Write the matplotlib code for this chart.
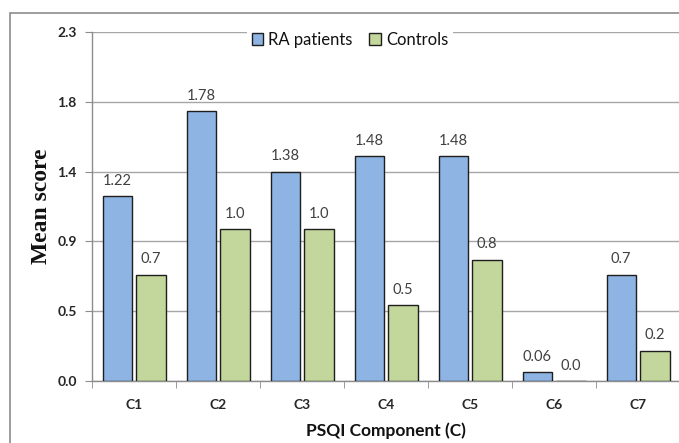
import numpy as np
import matplotlib
matplotlib.use("Agg")
import matplotlib.pyplot as plt
from matplotlib.patches import Rectangle

# PSQI component means
components = ["C1", "C2", "C3", "C4", "C5", "C6", "C7"]
ra_patients = [1.22, 1.78, 1.38, 1.48, 1.48, 0.06, 0.7]
controls = [0.7, 1.0, 1.0, 0.5, 0.8, 0.0, 0.2]
series_names = ["RA patients", "Controls"]
y_max = 2.3

plt.rcParams["font.family"] = ["Lato", "DejaVu Sans"]

W, H = 679, 443
fig = plt.figure(figsize=(W / 100, H / 100), dpi=100)

# chart-area border
fig.patches.append(Rectangle((10 / W, -0.1), 1.2, 1 - 13 / H + 0.1,
                             transform=fig.transFigure, fill=False,
                             edgecolor="#8c8c8c", lw=1.2, zorder=0))

ax = fig.add_axes([92 / W, 62 / H, 588 / W, 349 / H])
ax.set_facecolor("none")

x = np.arange(len(components))
width = 0.35
blue = "#8EB4E3"
green = "#C3D69B"
edge = "#1e1e1e"

b1 = ax.bar(x - 0.2, ra_patients, width, color=blue, edgecolor=edge, lw=1.0,
            label=series_names[0], zorder=3)
b2 = ax.bar(x + 0.2, controls, width, color=green, edgecolor=edge, lw=1.0,
            label=series_names[1], zorder=3)

for bars, vals in ((b1, ra_patients), (b2, controls)):
    for rect, v in zip(bars, vals):
        ax.annotate(str(v), (rect.get_x() + rect.get_width() / 2, v),
                    xytext=(0, 6), textcoords="offset points",
                    ha="center", va="bottom", fontsize=10.5, color="#404040",
                    zorder=4)

ax.set_xlim(-0.5, len(components) - 0.5)
ax.set_ylim(0, y_max)
yt = np.linspace(0, y_max, 6)
ax.set_yticks(yt)
ax.set_yticklabels([f"{t:.1f}" for t in yt], fontsize=10, fontweight="bold",
                   color="#262626")
ax.set_xticks(x)
ax.set_xticklabels(components, fontsize=10, fontweight="bold", color="#262626")
ax.set_xticks(np.arange(len(components) + 1) - 0.5, minor=True)
ax.tick_params(axis="x", which="major", length=0, pad=13)
ax.tick_params(axis="x", which="minor", length=5, color="#8c8c8c", direction="out")
ax.tick_params(axis="y", length=5, color="#8c8c8c", direction="out", pad=6)

ax.grid(axis="y", color="#a6a6a6", lw=1.0, zorder=0)
for s in ("top", "right"):
    ax.spines[s].set_visible(False)
for s in ("left", "bottom"):
    ax.spines[s].set_color("#8c8c8c")
    ax.spines[s].set_linewidth(1.0)

ax.set_ylabel("Mean score", family=["Liberation Serif"], fontweight="bold",
              fontsize=17, color="#111111", labelpad=4)
ax.set_xlabel("PSQI Component (C)", fontsize=12.5, fontweight="bold",
              color="#111111", labelpad=8)

leg = ax.legend(loc="center", bbox_to_anchor=(350 / W, 1 - 40 / H),
                bbox_transform=fig.transFigure, ncol=2, frameon=True,
                fontsize=12, handlelength=0.7, handleheight=0.7,
                handletextpad=0.3, columnspacing=1.0, borderpad=0.3)
leg.get_frame().set_edgecolor("none")
leg.get_frame().set_facecolor("white")
leg.get_frame().set_alpha(1)
leg.set_zorder(5)
for t in leg.get_texts():
    t.set_color("#111111")

fig.savefig("out.png", dpi=100)
